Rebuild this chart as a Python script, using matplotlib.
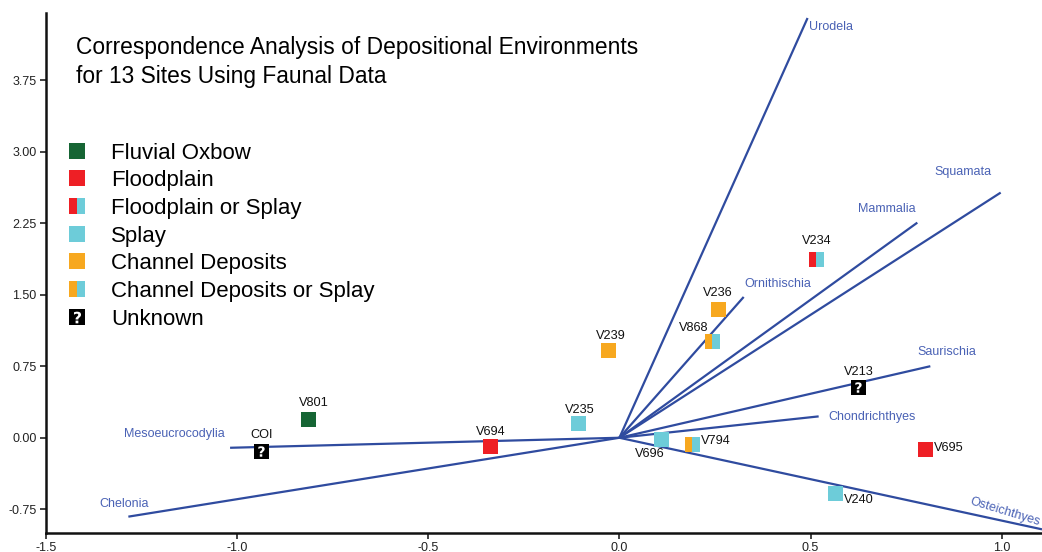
import numpy as np
import matplotlib
matplotlib.use('Agg')
import matplotlib.pyplot as plt
from matplotlib.lines import Line2D
from matplotlib.path import Path

plt.rcParams['font.family'] = ['Liberation Sans', 'DejaVu Sans']

# site scores (dimension 1, dimension 2)
sites = ['V801', 'COI', 'V694', 'V235', 'V239', 'V696', 'V794',
         'V868', 'V236', 'V234', 'V213', 'V695', 'V240']
dim1 = [-0.813, -0.936, -0.339, -0.109, -0.031, 0.108, 0.190,
        0.242, 0.257, 0.514, 0.624, 0.800, 0.565]
dim2 = [0.20, -0.136, -0.09, 0.15, 0.915, -0.017, -0.07,
        1.01, 1.345, 1.878, 0.528, -0.12, -0.58]
env = ['Fluvial Oxbow', 'Unknown', 'Floodplain', 'Splay', 'Channel Deposits',
       'Splay', 'Channel Deposits or Splay', 'Channel Deposits or Splay',
       'Channel Deposits', 'Floodplain or Splay', 'Unknown', 'Floodplain', 'Splay']

# taxon vectors
taxa = ['Urodela', 'Squamata', 'Mammalia', 'Ornithischia', 'Saurischia',
        'Chondrichthyes', 'Osteichthyes', 'Mesoeucrocodylia', 'Chelonia']
taxa_x = [0.492, 0.997, 0.779, 0.325, 0.813, 0.521, 1.105, -1.018, -1.284]
taxa_y = [4.40, 2.57, 2.255, 1.476, 0.75, 0.224, -0.96, -0.105, -0.827]

categories = ['Fluvial Oxbow', 'Floodplain', 'Floodplain or Splay', 'Splay',
              'Channel Deposits', 'Channel Deposits or Splay', 'Unknown']

green = '#166534'
red = '#ee1f25'
cyan = '#6dccd9'
orange = '#f7a81f'
line_col = '#2f4b9f'
taxon_col = '#4a62b5'

# (left colour, right colour) per category
fills = {
    'Fluvial Oxbow': (green, green),
    'Floodplain': (red, red),
    'Floodplain or Splay': (red, cyan),
    'Splay': (cyan, cyan),
    'Channel Deposits': (orange, orange),
    'Channel Deposits or Splay': (orange, cyan),
    'Unknown': ('black', 'black'),
}

# left half of a square, as a marker
half_left = Path([(-1, -1), (0, -1), (0, 1), (-1, 1), (-1, -1)],
                 [Path.MOVETO, Path.LINETO, Path.LINETO, Path.LINETO, Path.CLOSEPOLY])

# label offsets in points and alignment
site_lab = {
    'V801': (4, 11.5, 'center'), 'COI': (0, 11.3, 'center'),
    'V694': (1, 10.5, 'center'), 'V235': (1.2, 9.4, 'center'),
    'V239': (2, 10.5, 'center'), 'V696': (-8, -10.6, 'center'),
    'V794': (6.5, 2.6, 'left'), 'V868': (-2.4, 9.6, 'right'),
    'V236': (0, 12.2, 'center'), 'V234': (0.5, 13, 'center'),
    'V213': (0.5, 11, 'center'), 'V695': (6, 0.7, 'left'),
    'V240': (6.2, -4.8, 'left'),
}
taxon_lab = {
    'Urodela': (0.7, -6.5, 'left', 0), 'Squamata': (-27, 14.5, 'center', 0),
    'Mammalia': (-22, 9.6, 'center', 0), 'Ornithischia': (0.7, 9.1, 'left', 0),
    'Saurischia': (12.2, 10, 'center', 0), 'Chondrichthyes': (7.2, -0.5, 'left', 0),
    'Osteichthyes': (-26.6, 12.7, 'center', -17),
    'Mesoeucrocodylia': (-3.6, 10, 'right', 0), 'Chelonia': (14.7, 9.4, 'right', 0),
}


def square_handles(left, right, size, unknown=False):
    hs = [Line2D([], [], marker='s', markersize=size, markerfacecolor=right,
                 markeredgewidth=0, linestyle='none')]
    if left != right:
        hs.append(Line2D([], [], marker=half_left, markersize=size, markerfacecolor=left,
                         markeredgewidth=0, linestyle='none'))
    if unknown:
        hs.append(Line2D([], [], marker=r'$\mathbf{?}$', markersize=size * 0.7,
                         color='white', markeredgewidth=0, linestyle='none'))
    return tuple(hs)


fig = plt.figure(figsize=(10.42, 5.52), dpi=100)
ax = fig.add_axes([0.0439, 0.035, 0.9561, 0.941])

# taxon vectors from the origin
for name, tx, ty in zip(taxa, taxa_x, taxa_y):
    ax.plot([0, tx], [0, ty], color=line_col, lw=1.6, solid_capstyle='butt', zorder=2)
    dx, dy, ha, rot = taxon_lab[name]
    ax.annotate(name, (tx, ty), xytext=(dx, dy), textcoords='offset points',
                ha=ha, va='center', color=taxon_col, fontsize=9, rotation=rot,
                annotation_clip=False)

ms = 10.8
for s, x, y, e in zip(sites, dim1, dim2, env):
    left, right = fills[e]
    ax.plot(x, y, marker='s', markersize=ms, markerfacecolor=right,
            markeredgewidth=0, linestyle='none', zorder=3)
    if left != right:
        ax.plot(x, y, marker=half_left, markersize=ms, markerfacecolor=left,
                markeredgewidth=0, linestyle='none', zorder=3)
    if e == 'Unknown':
        ax.plot(x, y, marker=r'$\mathbf{?}$', markersize=7.5, color='white',
                markeredgewidth=0, linestyle='none', zorder=4)
    dx, dy, ha = site_lab[s]
    ax.annotate(s, (x, y), xytext=(dx, dy), textcoords='offset points',
                ha=ha, va='center', fontsize=9.2, color='#111111')

# legend
handles = [square_handles(*fills[c], 12, unknown=(c == 'Unknown')) for c in categories]
ax.legend(handles, categories, loc='upper left', bbox_to_anchor=(0.018, 0.751),
          frameon=False, fontsize=16, handlelength=1.2, handletextpad=0.93,
          labelspacing=0.3, borderpad=0, borderaxespad=0)

ax.text(0.0305, 0.906, 'Correspondence Analysis of Depositional Environments\n'
        'for 13 Sites Using Faunal Data', transform=ax.transAxes,
        fontsize=16.4, ha='left', va='center', linespacing=1.35)

ax.set_xlim(-1.5, 1.105)
ax.set_ylim(-0.995, 4.45)
ax.set_xticks([-1.5, -1.0, -0.5, 0.0, 0.5, 1.0])
ax.set_xticklabels(['-1.5', '-1.0', '-0.5', '0.0', '0.5', '1.0'])
ax.set_yticks([-0.75, 0.0, 0.75, 1.5, 2.25, 3.0, 3.75])
ax.set_yticklabels(['-0.75', '0.00', '0.75', '1.50', '2.25', '3.00', '3.75'])
ax.tick_params(labelsize=9, length=4.5, width=1.2, colors='#222222', pad=2)
for side in ['top', 'right']:
    ax.spines[side].set_visible(False)
for side in ['left', 'bottom']:
    ax.spines[side].set_linewidth(1.8)
    ax.spines[side].set_color('#111111')

fig.savefig('out.png', dpi=100)
